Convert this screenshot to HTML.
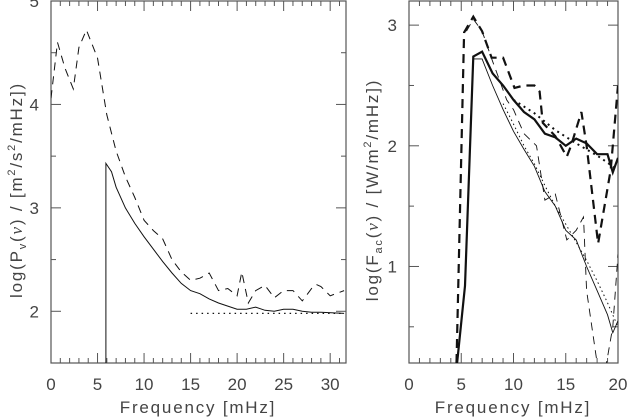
<!DOCTYPE html>
<html><head><meta charset="utf-8"><style>
html,body{margin:0;padding:0;background:#fff;}
svg{display:block;font-family:"Liberation Sans",sans-serif;}
.t{font-size:17px;fill:#444;}
.ti{font-size:17px;fill:#444;letter-spacing:1.8px;}
</style></head><body>
<svg id="c" width="629" height="419" viewBox="0 0 629 419">
<defs>
<clipPath id="cl"><rect x="51" y="1" width="295" height="362"/></clipPath>
<clipPath id="cr"><rect x="409" y="1" width="209" height="362"/></clipPath>
</defs>
<g id="L"></g>
<g id="R"></g>
<text class="ti" x="198" y="413" text-anchor="middle">Frequency  [mHz]</text>
<text class="ti" x="513" y="413" text-anchor="middle">Frequency  [mHz]</text>
<text class="ti" transform="translate(22,190) rotate(-90)" text-anchor="middle">log(P<tspan font-size="11" dy="4">v</tspan><tspan dy="-4">(</tspan><tspan font-family="Liberation Serif" font-style="italic">ν</tspan>)  /  [m<tspan font-size="11" dy="-7">2</tspan><tspan dy="7">/s</tspan><tspan font-size="11" dy="-7">2</tspan><tspan dy="7">/mHz])</tspan></text>
<text class="ti" transform="translate(378,190) rotate(-90)" text-anchor="middle">log(F<tspan font-size="11" dy="4">ac</tspan><tspan dy="-4">(</tspan><tspan font-family="Liberation Serif" font-style="italic">ν</tspan>)  /  [W/m<tspan font-size="11" dy="-7">2</tspan><tspan dy="7">/mHz])</tspan></text>
</svg>
<script>
// Left panel data
const leftDashX=[0,0.7,1.5,2.4,3.0,3.8,5,6,7,8,9,10,11,12,13,14,15,16,17,18,19,20,20.5,21.2,22,23,24,25,26,27,28,28.5,29,30,31.5];
const leftDashY=[4.06,4.6,4.35,4.15,4.55,4.72,4.45,3.9,3.55,3.3,3.1,2.88,2.78,2.7,2.5,2.38,2.3,2.32,2.37,2.2,2.22,2.15,2.38,2.08,2.2,2.25,2.13,2.2,2.2,2.1,2.22,2.26,2.24,2.15,2.2];
const leftSolidX=[5.9,5.9,6.5,7,8,9,10,11,12,13,14,15,16,17,18,19,20,21,22,23,24,25,26,27,28,29,31.5];
const leftSolidY=[1.5,3.43,3.35,3.2,3.0,2.85,2.72,2.6,2.48,2.37,2.27,2.2,2.17,2.12,2.08,2.05,2.02,2.02,2.04,2.01,2.0,2.02,2.02,2.0,1.99,1.99,1.98];
const leftDotX=[15,31.5];
const leftDotY=[1.98,1.98];
const leftXTicks=[0,5,10,15,20,25,30];
const leftYTicks=[2,3,4,5];
// Right panel data
const rThickDashX=[4.55,5.27,6.15,7,7.9,9,10.1,11,12,12.5,12.8,14,15.1,15.5,16.5,17,18.1,19.3,20];
const rThickDashY=[0.2,2.94,3.07,2.95,2.73,2.73,2.48,2.5,2.5,2.45,2.19,2.08,1.91,2.0,2.28,2.0,1.19,1.8,2.5];
const rThickSolidX=[4.6,5.36,6.15,7,8,9,10,11,12,13,14,15,16,17,18,19,19.5,20];
const rThickSolidY=[0.2,0.84,2.74,2.78,2.6,2.5,2.38,2.28,2.22,2.1,2.07,2.0,2.06,2.02,1.93,1.93,1.78,1.9];
const rThickDotX=[10,12,14,16,18,20];
const rThickDotY=[2.38,2.27,2.13,2.02,1.92,1.8];
const rThinSolidX=[6.15,7,8,9,10,11,12,13,14,15,16,17,18,19,19.5,20];
const rThinSolidY=[2.72,2.72,2.5,2.3,2.12,1.97,1.83,1.62,1.5,1.3,1.22,1.0,0.8,0.6,0.45,0.55];
const rThinDotX=[9,10,11,12,13,14,15,16,17,18,19,20];
const rThinDotY=[2.35,2.18,2.0,1.85,1.67,1.5,1.35,1.2,1.05,0.88,0.7,0.5];
const rThinDashX=[5.5,6.15,7,8,9.35,10,11,12.2,13,14,15.1,16,16.7,17,18,18.5,19.5,20];
const rThinDashY=[2.95,3.05,2.95,2.7,2.38,2.3,2.1,2.0,1.55,1.6,1.22,1.3,1.41,0.8,0.2,0.0,0.5,1.1];
const rightXTicks=[0,5,10,15,20];
const rightYTicks=[1,2,3];

const NS="http://www.w3.org/2000/svg";
function mk(tag,attrs,parent){const e=document.createElementNS(NS,tag);for(const k in attrs)e.setAttribute(k,attrs[k]);parent.appendChild(e);return e;}
function panel(g,box,xr,yr,clip){
  const sx=v=>box.x+(v-xr[0])/(xr[1]-xr[0])*box.w;
  const sy=v=>box.y+box.h-(v-yr[0])/(yr[1]-yr[0])*box.h;
  return {sx,sy,clip};
}
function frame(g,box,P,xt,xminor,yt,yminor,xr,yr){
  const f=mk('rect',{x:box.x,y:box.y,width:box.w,height:box.h,fill:'none',stroke:'#555','stroke-width':1.2},g);
  
  
  for(let v=xr[0];v<=xr[1]+1e-9;v+=xminor){
    const big=xt.some(t=>Math.abs(t-v)<1e-6);const L=big?10:5;
    mk('line',{x1:P.sx(v),x2:P.sx(v),y1:box.y+box.h,y2:box.y+box.h-L,stroke:'#555'},g);
    mk('line',{x1:P.sx(v),x2:P.sx(v),y1:box.y,y2:box.y+L,stroke:'#555'},g);
  }
  for(let v=Math.ceil(yr[0]/yminor)*yminor;v<=yr[1]+1e-9;v+=yminor){
    const big=yt.some(t=>Math.abs(t-v)<1e-6);const L=big?10:5;
    mk('line',{y1:P.sy(v),y2:P.sy(v),x1:box.x,x2:box.x+L,stroke:'#555'},g);
    mk('line',{y1:P.sy(v),y2:P.sy(v),x1:box.x+box.w,x2:box.x+box.w-L,stroke:'#555'},g);
  }
  xt.forEach(v=>{const t=mk('text',{x:P.sx(v),y:390,'text-anchor':'middle',class:'t'},g);t.textContent=v;
    
    });
  yt.forEach(v=>{const t=mk('text',{x:box.x-12,y:P.sy(v)+6,'text-anchor':'end',class:'t'},g);t.textContent=v;
    
    });
}
function line(g,P,xs,ys,sw,dash,name){
  const d=xs.map((x,i)=>(i?'L':'M')+P.sx(x).toFixed(1)+','+P.sy(ys[i]).toFixed(1)).join('');
  const a={d:d,fill:'none',stroke:'#111','stroke-width':sw,'clip-path':'url(#'+P.clip+')'};
  if(dash)a['stroke-dasharray']=dash;
  const p=mk('path',a,g);
  
  
}
const Lg=document.getElementById('L'),Rg=document.getElementById('R');
const lb={x:51,y:1,w:295,h:362},rb={x:409,y:1,w:209,h:362};
const LP=panel(Lg,lb,[0,31.7],[1.5,5],'cl');
const RP=panel(Rg,rb,[0,20],[0.2,3.2],'cr');
frame(Lg,lb,LP,leftXTicks,1,leftYTicks,0.5,[0,31.7],[1.5,5]);
frame(Rg,rb,RP,rightXTicks,1,rightYTicks,0.5,[0,20],[0.2,3.2]);
line(Lg,LP,leftDashX,leftDashY,1,'8,6','left-dashed-series');
line(Lg,LP,leftSolidX,leftSolidY,1,null,'left-solid-series');
line(Lg,LP,leftDotX,leftDotY,1.2,'1.5,4','left-dotted-series');
line(Rg,RP,rThinDashX,rThinDashY,0.9,'8,6','right-thin-dashed-series');
line(Rg,RP,rThinSolidX,rThinSolidY,0.9,null,'right-thin-solid-series');
line(Rg,RP,rThinDotX,rThinDotY,1,'1.5,3','right-thin-dotted-series');
line(Rg,RP,rThickDashX,rThickDashY,2.2,'9,6','right-thick-dashed-series');
line(Rg,RP,rThickSolidX,rThickSolidY,2.2,null,'right-thick-solid-series');
line(Rg,RP,rThickDotX,rThickDotY,2,'2,4','right-thick-dotted-series');
</script>
</body></html>
